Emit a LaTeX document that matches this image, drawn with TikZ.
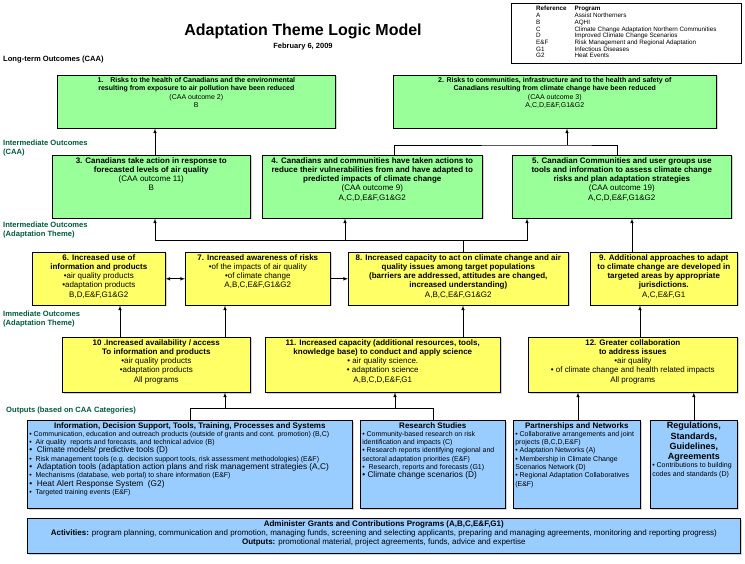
\documentclass[tikz,border=0pt]{standalone}
\usepackage{fontspec}
\setmainfont{Liberation Sans}
\usetikzlibrary{shadows,positioning}
\definecolor{ltgreen}{RGB}{153,255,153}
\definecolor{ltyellow}{RGB}{255,255,102}
\definecolor{ltblue}{RGB}{153,204,255}
\definecolor{lblgreen}{RGB}{0,90,60}
\tikzset{
  box/.style={draw, inner sep=2pt, line width=0.6pt, font=\fontsize{8}{9.3}\selectfont,
    drop shadow={shadow xshift=1.2pt, shadow yshift=-1.2pt, fill=gray!70}},
  lt/.style={box, fill=ltgreen},
  im/.style={box, fill=ltyellow},
  op/.style={box, fill=ltblue},
  arr/.style={-latex, line width=0.6pt},
  darr/.style={latex-latex, line width=0.6pt},
  lbl/.style={anchor=west, align=left, inner sep=0pt, text=lblgreen, font=\bfseries\fontsize{7.6}{9}\selectfont}
}
% box with top aligned text: [style]{name}{x1}{y1}{x2}{y2}{text}
\newcommand{\lmbox}[7][]{\node[#1, anchor=north west] (#2) at (#3,#4)
  {\parbox[t][\dimexpr #6pt-#4pt-4pt\relax][t]{\dimexpr #5pt-#3pt-4pt\relax}{#7}};}
\newcommand{\sm}{\fontsize{7}{8.3}\selectfont}
\newcommand{\bg}{\fontsize{8.3}{9.4}\selectfont}
\begin{document}
\begin{tikzpicture}[x=1pt, y=-1pt]
  \useasboundingbox (0,0) rectangle (745,564);

  % Title and reference
  \node[font=\bfseries\fontsize{16}{18}\selectfont] (title) at (303,31) {Adaptation Theme Logic Model};
  \node[font=\bfseries\fontsize{7.5}{8.5}\selectfont, below=-2pt of title] (date) {February 6, 2009};
  \node[draw, line width=0.6pt, anchor=north west, inner sep=3pt, font=\fontsize{6.3}{6.7}\selectfont,
    minimum width=230pt, minimum height=59pt, align=left] (refs) at (511,3)
    {\begin{tabular}{@{}l@{\hspace{8pt}}l@{}}
      \textbf{Reference} & \textbf{Program}\\
      A & Assist Northerners\\
      B & AQHI\\
      C & Climate Change Adaptation Northern Communities\\
      D & Improved Climate Change Scenarios\\
      E\&F & Risk Management and Regional Adaptation\\
      G1 & Infectious Diseases\\
      G2 & Heat Events
    \end{tabular}};

  % Row labels
  \node[lbl, text=black] (L1) at (3,60) {Long-term Outcomes (CAA)};
  \node[lbl] (L2) at (3,148) {Intermediate Outcomes\\(CAA)};
  \node[lbl] (L3) at (3,230) {Intermediate Outcomes\\(Adaptation Theme)};
  \node[lbl] (L4) at (3,319) {Immediate Outcomes\\(Adaptation Theme)};
  \node[lbl] (L5) at (6,411) {Outputs (based on CAA Categories)};

  % Long-term outcomes
  \lmbox[lt, font=\fontsize{7}{8.5}\selectfont]{n1}{57}{75}{335}{128}{\centering\textbf{1.\quad Risks to the health of Canadians and the environmental\\ resulting from exposure to air pollution have been reduced}\\ (CAA outcome 2)\\ B}
  \lmbox[lt, font=\fontsize{7}{8.5}\selectfont]{n2}{393}{75}{716}{128}{\centering\textbf{2. Risks to communities, infrastructure and to the health and safety of\\ Canadians resulting from climate change have been reduced}\\ (CAA outcome 3)\\ A,C,D,E\&F,G1\&G2}

  % Intermediate outcomes (CAA)
  \lmbox[lt]{n3}{52}{155}{250}{218}{\centering\textbf{3. Canadians take action in response to\\ forecasted levels of air quality}\\ (CAA outcome 11)\\ B}
  \lmbox[lt]{n4}{262}{155}{482}{218}{\centering\textbf{4. Canadians and communities have taken actions to\\ reduce their vulnerabilities from and have adapted to\\ predicted impacts of climate change}\\ (CAA outcome 9)\\ A,C,D,E\&F,G1\&G2}
  \lmbox[lt]{n5}{512}{155}{731}{218}{\centering\textbf{5. Canadian Communities and user groups use\\ tools and information to assess climate change\\ risks and plan adaptation strategies}\\ (CAA outcome 19)\\ A,C,D,E\&F,G1\&G2}

  % Intermediate outcomes (Adaptation Theme)
  \lmbox[im]{n6}{32}{252}{165}{305}{\centering\textbf{6. Increased use of\\ information and products}\\ •air quality products\\ •adaptation products\\ B,D,E\&F,G1\&G2}
  \lmbox[im]{n7}{185}{252}{330}{305}{\centering\textbf{7. Increased awareness of risks}\\ •of the impacts of air quality\\ •of climate change\\ A,B,C,E\&F,G1\&G2}
  \lmbox[im]{n8}{348}{252}{568}{305}{\centering\textbf{8. Increased capacity to act on climate change and air\\ quality issues among target populations\\ (barriers are addressed, attitudes are changed,\\ increased understanding)}\\ A,B,C,E\&F,G1\&G2}
  \lmbox[im]{n9}{590}{252}{737}{305}{\centering\textbf{9. Additional approaches to adapt\\ to climate change are developed in\\ targeted areas by appropriate\\ jurisdictions.}\\ A,C,E\&F,G1}

  % Immediate outcomes
  \lmbox[im]{n10}{62}{337}{250}{392}{\centering\textbf{10 .Increased availability / access\\ To information and products}\\ •air quality products\\ •adaptation products\\ All programs}
  \lmbox[im]{n11}{265}{337}{500}{392}{\centering\textbf{11. Increased capacity (additional resources, tools,\\ knowledge base) to conduct and apply science}\\ • air quality science.\\ • adaptation science\\ A,B,C,D,E\&F,G1}
  \lmbox[im]{n12}{528}{337}{737}{392}{\centering\textbf{12. Greater collaboration\\ to address issues}\\ •air quality\\ • of climate change and health related impacts\\ All programs}

  % Outputs
  \lmbox[op]{o1}{27}{420}{352}{508}{{\centering\textbf{Information, Decision Support, Tools, Training, Processes and Systems}\par}\raggedright\sm
    • Communication, education and outreach products (outside of grants and cont. promotion) (B,C)\\
    • \ Air quality \ reports and forecasts, and technical advice (B)\\
    {\bg • \ Climate models/ predictive tools (D)}\\
    • \ Risk management tools (e.g. decision support tools, risk assessment methodologies) (E\&F)\\
    {\bg • \ Adaptation tools (adaptation action plans and risk management strategies (A,C)}\\
    • \ Mechanisms (database, web portal) to share information (E\&F)\\
    {\bg • \ Heat Alert Response System \ (G2)}\\
    • \ Targeted training events (E\&F)}
  \lmbox[op]{o2}{360}{420}{505}{508}{{\centering\textbf{Research Studies}\par}\raggedright\sm
    • Community-based research on risk identification and impacts (C)\\
    • Research reports identifying regional and sectoral adaptation priorities (E\&F)\\
    • \ Research, reports and forecasts (G1)\\
    {\bg • Climate change scenarios (D)}}
  \lmbox[op]{o3}{513}{420}{640}{508}{{\centering\textbf{Partnerships and Networks}\par}\raggedright\sm
    • Collaborative arrangements and joint projects (B,C,D,E\&F)\\
    • Adaptation Networks (A)\\
    • Membership in Climate Change Scenarios Network (D)\\
    • Regional Adaptation Collaboratives (E\&F)}
  \lmbox[op]{o4}{650}{420}{737}{508}{{\centering\fontsize{9}{10.2}\selectfont\textbf{Regulations,\\ Standards,\\ Guidelines,\\ Agreements}\par}\raggedright\sm
    • Contributions to building codes and standards (D)}
  \lmbox[op]{o5}{27}{518}{740}{553}{\centering\textbf{Administer Grants and Contributions Programs (A,B,C,E\&F,G1)}\\
    \textbf{Activities:} program planning, communication and promotion, managing funds, screening and selecting applicants, preparing and managing agreements, monitoring and reporting progress)\\
    \textbf{Outputs:} promotional material, project agreements, funds, advice and expertise}

  % Connectors to long-term outcomes
  \draw[arr] ([xshift=103pt]n3.north west) -- ([xshift=103pt]n3.north west |- n1.south);
  \coordinate (j45) at (567,145);
  \draw[line width=0.6pt] ([xshift=132pt]n4.north west) |- (j45) -| ([xshift=105pt]n5.north west);
  \draw[arr] (j45) -- (j45 |- n2.south);

  % Connectors to intermediate outcomes (CAA)
  \coordinate (j8) at ([xshift=115pt]n8.north west |- 0,240);
  \draw[line width=0.6pt] ([xshift=115pt]n8.north west) -- (j8);
  \draw[arr] (j8) -| ([xshift=103pt]n3.south west);
  \draw[arr] (j8) -| ([xshift=83pt]n4.south west);
  \draw[arr] (j8) -| ([xshift=15pt]n5.south west);
  \draw[arr] ([xshift=42pt]n9.north west) -- ([xshift=42pt]n9.north west |- n5.south);

  % Within the yellow row
  \draw[darr] (n6.east) -- (n7.west);
  \draw[arr] (n7.east) -- (n8.west);

  % Connectors from immediate outcomes
  \draw[arr] ([xshift=58pt]n10.north west) -- ([xshift=58pt]n10.north west |- n6.south);
  \draw[arr] ([xshift=163pt]n10.north west) -- ([xshift=163pt]n10.north west |- n7.south);
  \draw[arr] ([xshift=198pt]n11.north west) -- ([xshift=198pt]n11.north west |- n8.south);
  \draw[arr] ([xshift=112pt]n12.north west) -- ([xshift=112pt]n12.north west |- n9.south);

  % Connectors from outputs
  \coordinate (jo) at (0,408);
  \draw[line width=0.6pt] ([xshift=163pt]o1.north west) |- (jo -| o2.north) -- (o2.north);
  \draw[arr] ([xshift=163pt]n10.south west |- jo) -- ([xshift=163pt]n10.south west);
  \draw[arr] ([xshift=130pt]n11.south west |- jo) -- ([xshift=130pt]n11.south west);
  \draw[arr] ([xshift=65pt]o3.north west) -- ([xshift=65pt]o3.north west |- n12.south);
  \draw[arr] (o4.north) -- (o4.north |- n12.south);
\end{tikzpicture}
\end{document}
